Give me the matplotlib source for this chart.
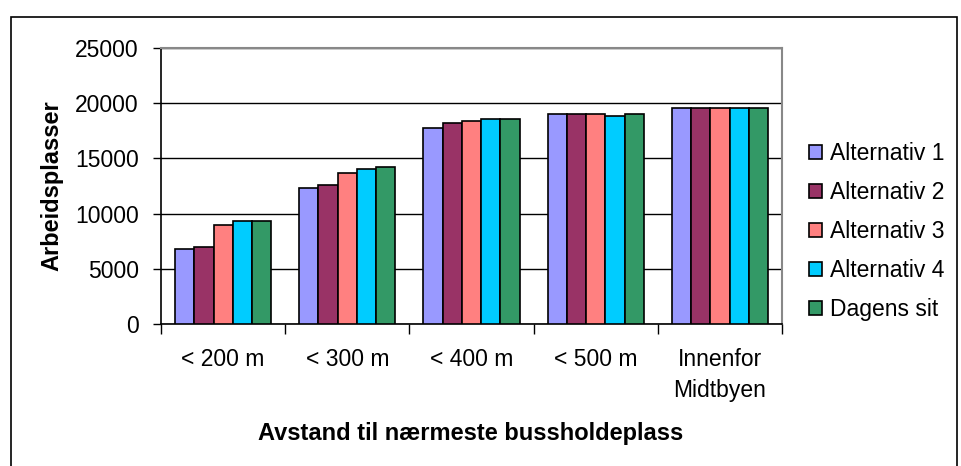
import numpy as np
import matplotlib.pyplot as plt
from matplotlib.patches import Rectangle

plt.rcParams['font.family'] = ['Liberation Sans', 'DejaVu Sans']

# data
categories = ['< 200 m', '< 300 m', '< 400 m', '< 500 m', 'Innenfor\nMidtbyen']
series_names = ['Alternativ 1', 'Alternativ 2', 'Alternativ 3', 'Alternativ 4', 'Dagens sit']
alt1 = [6830, 12340, 17720, 19060, 19540]
alt2 = [7010, 12550, 18180, 19060, 19540]
alt3 = [9010, 13700, 18390, 19060, 19540]
alt4 = [9350, 14000, 18540, 18880, 19540]
dagens = [9350, 14210, 18540, 19060, 19540]
colors = ['#9999FF', '#993366', '#FF8080', '#00CCFF', '#339966']

fig = plt.figure(figsize=(9.62, 4.66), dpi=100)
ax = fig.add_axes([0.1674, 0.3047, 0.6455, 0.5923])

x = np.arange(len(categories))
w = 0.155
for k, (vals, name, c) in enumerate(zip([alt1, alt2, alt3, alt4, dagens], series_names, colors)):
    ax.bar(x + (k - 2) * w, vals, w, color=c, edgecolor='black', linewidth=1.2,
           label=name, zorder=3)

ax.set_xlim(-0.5, len(categories) - 0.5)
ax.set_ylim(0, 25000)
ax.set_yticks(np.arange(0, 25001, 5000))
ax.yaxis.grid(True, color='black', linewidth=1.0, zorder=0)
ax.set_axisbelow(True)

# group boundaries carry the x ticks, labels sit in the middle
ax.set_xticks(np.arange(-0.5, len(categories), 1.0))
ax.set_xticklabels([])
ax.set_xticks(x, minor=True)
ax.set_xticklabels(categories, minor=True, fontsize=16.5, linespacing=1.45, va='top')
ax.tick_params(axis='x', which='minor', length=0, pad=17)
ax.tick_params(axis='x', which='major', length=7, width=1, direction='out')
ax.tick_params(axis='y', length=6, width=1, labelsize=16.5, pad=10)

ax.spines['left'].set_color('black')
ax.spines['bottom'].set_color('black')
ax.spines['left'].set_linewidth(1.2)
ax.spines['bottom'].set_linewidth(1.2)
ax.spines['top'].set_color('#888888')
ax.spines['right'].set_color('#888888')
ax.spines['top'].set_linewidth(1.5)
ax.spines['right'].set_linewidth(1.5)

ax.set_xlabel('Avstand til nærmeste bussholdeplass', fontsize=17, fontweight='bold')
ax.set_ylabel('Arbeidsplasser', fontsize=17, fontweight='bold')
ax.xaxis.set_label_coords(0.499, -0.395)
ax.yaxis.set_label_coords(-0.175, 0.5)
ax.xaxis.label.set_va('center')
ax.yaxis.label.set_va('center')

leg = ax.legend(loc='center left', bbox_to_anchor=(1.01, 0.335), frameon=False, fontsize=16.5,
                handlelength=0.57, handleheight=0.57, handletextpad=0.35, labelspacing=0.69)

# outer chart border
fig.patches.append(Rectangle((11 / 962, -0.1), 946 / 962, 1.1 - 17 / 466,
                             transform=fig.transFigure, fill=False,
                             edgecolor='black', linewidth=1.2))

fig.savefig('out.png', dpi=100)
